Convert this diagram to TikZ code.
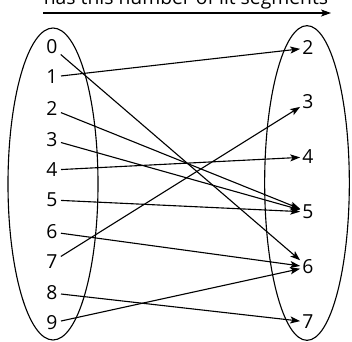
\documentclass[tikz,border=0pt]{standalone}
\usepackage{fontspec}
\setmainfont{Open Sans}
\usetikzlibrary{arrows.meta}

\begin{document}
\begin{tikzpicture}[
    x=0.03cm, y=-0.03cm,
    line width=0.95pt,
    digit/.style={inner sep=1.5pt, font=\fontsize{16.5}{19}\selectfont},
    maps to/.style={-{Stealth[length=8.5pt,width=6pt,inset=2pt]}, shorten <=1pt}
  ]
\useasboundingbox (0,0) rectangle (352,342);
\node[anchor=base, font=\fontsize{16.5}{19}\selectfont] (title) at (186,5) {has this number of lit segments};
\coordinate (head0) at (42,13); \coordinate (head1) at (331,13);
\draw[maps to] (head0) -- (head1);

% domain and codomain
\draw (53,184) ellipse [x radius=1.35cm, y radius=4.68cm];
\draw (307,183) ellipse [x radius=1.27cm, y radius=4.72cm];

\node[digit] (l0) at (52,47) {0}; \node[digit] (l1) at (52,77) {1};
\node[digit] (l2) at (52,109) {2}; \node[digit] (l3) at (52,140) {3};
\node[digit] (l4) at (52,170) {4}; \node[digit] (l5) at (52,200) {5};
\node[digit] (l6) at (52,232) {6}; \node[digit] (l7) at (52,262) {7};
\node[digit] (l8) at (52,293) {8}; \node[digit] (l9) at (52,323) {9};

\node[digit] (r2) at (308,48) {2}; \node[digit] (r3) at (308,102) {3};
\node[digit] (r4) at (308,157) {4}; \node[digit] (r5) at (308,212) {5};
\node[digit] (r6) at (308,267) {6}; \node[digit] (r7) at (308,322) {7};

\draw[maps to] (l0) -- (r6); \draw[maps to] (l1) -- (r2);
\draw[maps to] (l2) -- (r5); \draw[maps to] (l3) -- (r5);
\draw[maps to] (l4) -- (r4); \draw[maps to] (l5) -- (r5);
\draw[maps to] (l6) -- (r6); \draw[maps to] (l7) -- (r3);
\draw[maps to] (l8) -- (r7); \draw[maps to] (l9) -- (r6);
\end{tikzpicture}
\end{document}
